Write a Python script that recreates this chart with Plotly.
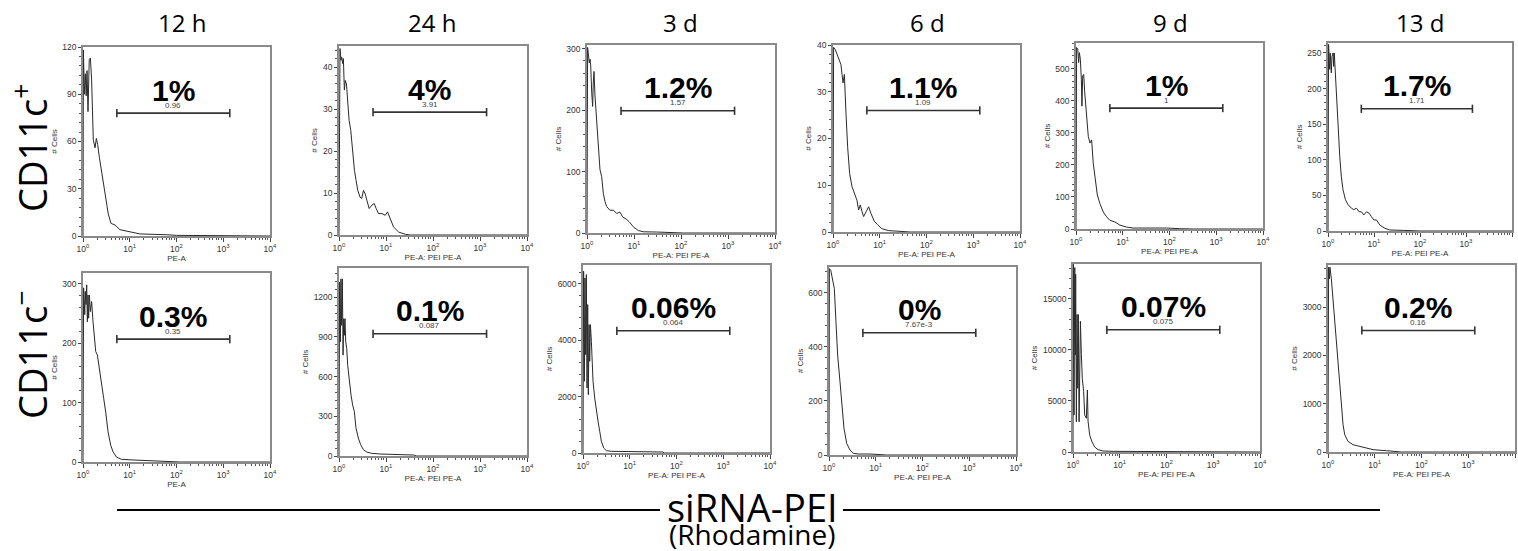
import math
import plotly.graph_objects as go

# ---------------- data ----------------
columns = ["12 h", "24 h", "3 d", "6 d", "9 d", "13 d"]
row_labels = ["CD11c<sup>+</sup>", "CD11c<sup>\u2212</sup>"]
x_tick_vals = [1, 10, 100, 1000, 10000]
x_tick_text = ["10<sup>0</sup>", "10<sup>1</sup>", "10<sup>2</sup>", "10<sup>3</sup>", "10<sup>4</sup>"]

# CD11c+ row
pe_12h_pos = [1.0, 1.02, 1.07, 1.12, 1.17, 1.22, 1.28, 1.36, 1.44, 1.53, 1.66, 1.81, 1.93, 2.06, 2.24, 2.51, 2.82, 3.09, 3.47, 3.98, 4.84, 6.17, 8.51, 16.6, 61.7, 100, 10000]
cells_12h_pos = [0, 118, 90, 103, 89, 105, 79, 112, 113, 99, 61, 56, 62, 58, 50, 40, 29, 21, 14, 8, 7, 4, 3, 1.3, 0.8, 0.4, 0]

pe_24h_pos = [1.0, 1.05, 1.10, 1.14, 1.20, 1.24, 1.30, 1.36, 1.44, 1.51, 1.64, 1.78, 1.96, 2.13, 2.31, 2.51, 2.81, 3.05, 3.31, 3.60, 3.91, 4.38, 5.00, 5.61, 6.18, 6.94, 8.18, 9.64, 10.8, 12.3, 14.5, 18.6, 25.8, 33.0, 10000]
cells_24h_pos = [0, 44.4, 41.6, 42.4, 40.8, 42, 34.5, 36.8, 36, 32.9, 27.3, 24.9, 18.6, 15.4, 13, 10.6, 9, 8.7, 10.6, 9.8, 8.3, 6.3, 7.1, 7.5, 6.3, 5.1, 5.1, 4.7, 5.5, 3.9, 1.9, 0.7, 0.16, 0, 0]

pe_3d_pos = [1.0, 1.03, 1.08, 1.12, 1.16, 1.20, 1.26, 1.32, 1.36, 1.41, 1.48, 1.61, 1.74, 1.89, 2.05, 2.23, 2.42, 2.62, 3.08, 3.63, 4.28, 5.04, 5.74, 6.76, 7.96, 9.68, 12.4, 15.8, 30.3, 58.3, 112, 10000]
cells_3d_pos = [0, 302, 288, 277, 283, 272, 228, 206, 244, 263, 223, 179, 135, 103, 92, 64, 51, 43, 37, 37, 32, 34, 26, 23, 18, 10, 4, 2, 1.6, 1, 0, 0]

pe_6d_pos = [1.0, 1.03, 1.12, 1.22, 1.39, 1.48, 1.56, 1.64, 1.75, 1.77, 1.90, 2.06, 2.27, 2.55, 2.86, 3.25, 3.53, 3.83, 4.16, 4.52, 5.15, 5.78, 6.47, 7.63, 8.99, 11.1, 15.5, 23.3, 44.8, 10000]
cells_6d_pos = [0, 39.5, 39, 37.9, 36.5, 35.8, 33.7, 31.9, 33.7, 31.6, 25.2, 18.1, 12.5, 9.7, 8.3, 6.8, 4.7, 5.8, 4.4, 3.3, 4.4, 5.4, 4.0, 2.3, 1.6, 0.7, 0.3, 0.14, 0, 0]

pe_9d_pos = [1.0, 1.03, 1.09, 1.14, 1.18, 1.24, 1.30, 1.34, 1.39, 1.46, 1.53, 1.61, 1.69, 1.83, 1.99, 2.16, 2.34, 2.55, 2.86, 3.25, 3.83, 4.52, 5.32, 6.81, 8.71, 12.1, 16.7, 23.3, 44.8, 86.3, 166, 320, 10000]
cells_9d_pos = [0, 566, 561, 519, 550, 529, 467, 383, 477, 482, 430, 383, 341, 289, 268, 278, 205, 153, 106, 79, 53, 38, 27, 22, 12, 6, 3, 3, 4, 3, 1, 0, 0]

pe_13d_pos = [1.0, 1.03, 1.09, 1.12, 1.18, 1.22, 1.29, 1.33, 1.37, 1.42, 1.52, 1.65, 1.80, 1.95, 2.12, 2.39, 2.73, 3.23, 3.63, 4.15, 4.75, 5.33, 6.00, 6.86, 7.85, 8.81, 9.91, 11.3, 13.4, 17.2, 22.1, 43.3, 100, 10000]
cells_13d_pos = [0, 262, 227, 250, 222, 245, 250, 231, 250, 229, 194, 147, 105, 76, 58, 44, 37, 32, 30, 32, 27, 27, 22.5, 27, 25, 20, 15.5, 15.5, 8.4, 3.8, 1.4, 0.9, 0, 0]

# CD11c- row
pe_12h_neg = [1.0, 1.03, 1.09, 1.12, 1.16, 1.20, 1.24, 1.28, 1.32, 1.37, 1.44, 1.53, 1.64, 1.78, 1.87, 2.03, 2.20, 2.47, 2.77, 3.06, 3.43, 3.92, 4.40, 5.18, 6.63, 11.8, 26.8, 71.9, 118, 10000]
cells_12h_neg = [0, 293, 248, 287, 265, 298, 236, 281, 242, 281, 253, 270, 236, 208, 186, 180, 163, 135, 107, 84, 51, 28, 17, 8.4, 4.5, 3.4, 2.3, 1.7, 0, 0]

pe_24h_neg = [1.0, 1.03, 1.07, 1.10, 1.14, 1.18, 1.22, 1.26, 1.30, 1.34, 1.39, 1.46, 1.53, 1.66, 1.80, 1.95, 2.12, 2.30, 2.58, 2.90, 3.30, 3.89, 4.97, 7.48, 16.9, 38.4, 45.2, 10000]
cells_24h_neg = [0, 1313, 862, 1338, 987, 1338, 762, 1037, 912, 1037, 862, 812, 686, 561, 461, 386, 336, 210, 135, 85, 48, 30, 20, 15, 10, 7.5, 0, 0]

pe_3d_neg = [1.0, 1.03, 1.07, 1.10, 1.14, 1.18, 1.22, 1.26, 1.30, 1.35, 1.39, 1.44, 1.51, 1.64, 1.78, 1.93, 2.10, 2.28, 2.47, 2.77, 3.16, 4.05, 6.11, 16.4, 51.8, 53.5, 10000]
cells_3d_neg = [0, 6450, 2545, 6210, 3490, 6330, 2307, 5265, 2070, 4555, 3253, 4555, 3963, 2545, 1952, 1479, 1124, 769, 414, 177, 83, 59, 59, 47, 35, 0, 0]

pe_6d_neg = [1.0, 1.02, 1.09, 1.20, 1.30, 1.41, 1.53, 1.72, 1.87, 2.09, 2.39, 2.81, 3.32, 4.24, 7.54, 14.5, 17.1, 10000]
cells_6d_neg = [0, 690, 684, 653, 616, 493, 370, 271, 185, 99, 43, 18.5, 6, 3.7, 3.7, 2.5, 0, 0]

pe_9d_neg = [1.0, 1.02, 1.05, 1.09, 1.12, 1.14, 1.18, 1.22, 1.26, 1.30, 1.35, 1.39, 1.44, 1.51, 1.58, 1.69, 1.78, 1.93, 2.03, 2.10, 2.28, 2.55, 2.91, 3.43, 4.40, 7.20, 26.8, 139, 268, 10000]
cells_9d_neg = [0, 18380, 3610, 18050, 9518, 17395, 2954, 13456, 6236, 13456, 2954, 11159, 12800, 9518, 7220, 5908, 3610, 3300, 6070, 3000, 1641, 985, 492, 230, 98, 66, 66, 33, 0, 0]

pe_13d_neg = [1.0, 1.03, 1.07, 1.10, 1.18, 1.28, 1.39, 1.51, 1.64, 1.78, 1.93, 2.10, 2.28, 2.68, 3.43, 4.77, 6.63, 9.21, 17.8, 34.3, 37.3, 10000]
cells_13d_neg = [0, 3824, 3584, 3824, 3584, 3171, 2691, 2210, 1730, 1318, 906, 563, 357, 220, 151, 117, 82, 48, 27, 14, 0, 0]

# gate (PE-A) and gate statistics
gate_low = 5.3
gate_high = 1380
pct_pos = ["1%", "4%", "1.2%", "1.1%", "1%", "1.7%"]
gate_stat_pos = ["0.96", "3.91", "1.57", "1.09", "1", "1.71"]
pct_neg = ["0.3%", "0.1%", "0.06%", "0%", "0.07%", "0.2%"]
gate_stat_neg = ["0.35", "0.087", "0.064", "7.67e-3", "0.075", "0.16"]

x_titles = ["PE-A", "PE-A: PEI PE-A", "PE-A: PEI PE-A", "PE-A: PEI PE-A", "PE-A: PEI PE-A", "PE-A: PEI PE-A"]
y_title = "# Cells"

series = [
    (pe_12h_pos, cells_12h_pos), (pe_24h_pos, cells_24h_pos), (pe_3d_pos, cells_3d_pos),
    (pe_6d_pos, cells_6d_pos), (pe_9d_pos, cells_9d_pos), (pe_13d_pos, cells_13d_pos),
    (pe_12h_neg, cells_12h_neg), (pe_24h_neg, cells_24h_neg), (pe_3d_neg, cells_3d_neg),
    (pe_6d_neg, cells_6d_neg), (pe_9d_neg, cells_9d_neg), (pe_13d_neg, cells_13d_neg),
]
pct_all = pct_pos + pct_neg
stat_all = gate_stat_pos + gate_stat_neg

# ---------------- layout constants ----------------
W, H = 1518, 551
# plot-area boxes in pixels: left, right, top, bottom
panel_px = [
    (83, 270, 47, 236), (339, 527, 46, 235), (587, 775, 45, 233),
    (833, 1020, 45, 232), (1076, 1263, 43, 229), (1328, 1512, 43, 231),
    (83, 270, 273, 462), (339, 527, 268, 456), (583, 770, 265, 453),
    (829, 1016, 267, 455), (1073, 1260, 264, 452), (1328, 1515, 265, 452),
]
y_top = [120, 45, 306, 40, 580, 264, 318, 1420, 6670, 696, 18400, 3870]
y_step = [30, 10, 100, 10, 100, 50, 100, 300, 2000, 200, 5000, 1000]
gate_frac = 0.65

label_font = "Liberation Sans, Arial, sans-serif"
title_font = "Open Sans, Noto Sans, sans-serif"
tick_font = dict(family=label_font, size=8.5, color="#333333")
x_minor = [m * 10 ** k for k in range(4) for m in range(2, 10)]

fig = go.Figure()
layout = dict(
    width=W, height=H, autosize=False,
    margin=dict(l=0, r=0, t=0, b=0, pad=0, autoexpand=False),
    paper_bgcolor="white", plot_bgcolor="white",
    showlegend=False,
)
annotations = []
shapes = []

for i, (xs, ys) in enumerate(series):
    n = i + 1
    xa = "x" if n == 1 else f"x{n}"
    ya = "y" if n == 1 else f"y{n}"
    L, R, T, B = panel_px[i]
    fig.add_trace(go.Scatter(
        x=xs, y=ys, mode="lines", xaxis=xa, yaxis=ya,
        line=dict(color="#2a2a2a", width=1), hoverinfo="skip",
    ))
    gy = gate_frac * y_top[i]
    cap = 0.022 * y_top[i]
    fig.add_trace(go.Scatter(
        x=[gate_low, gate_low, None, gate_low, gate_high, None, gate_high, gate_high],
        y=[gy - cap, gy + cap, None, gy, gy, None, gy - cap, gy + cap],
        mode="lines", xaxis=xa, yaxis=ya,
        line=dict(color="#333333", width=1.6), hoverinfo="skip",
    ))
    layout["xaxis" if n == 1 else f"xaxis{n}"] = dict(
        domain=[L / W, R / W], anchor=ya, type="log", range=[0, 4], automargin=False,
        tickmode="array", tickvals=x_tick_vals, ticktext=x_tick_text,
        ticks="outside", ticklen=4, tickcolor="#444444", tickfont=tick_font,
        minor=dict(tickmode="array", tickvals=x_minor, ticks="outside", ticklen=2, tickcolor="#555555"),
        showline=True, mirror=True, linecolor="#8a8a8a", linewidth=1.5,
        showgrid=False, zeroline=False,
        title=dict(text=x_titles[i % 6], font=dict(family=label_font, size=8, color="#333333"), standoff=1),
    )
    layout["yaxis" if n == 1 else f"yaxis{n}"] = dict(
        domain=[1 - B / H, 1 - T / H], anchor=xa, range=[0, y_top[i]], automargin=False,
        tickmode="linear", tick0=0, dtick=y_step[i], tickformat="d",
        ticks="outside", ticklen=3, tickcolor="#444444", tickfont=tick_font,
        minor=dict(dtick=y_step[i] / 5, ticks="outside", ticklen=2, tickcolor="#555555"),
        showline=True, mirror=True, linecolor="#8a8a8a", linewidth=1.5,
        showgrid=False, zeroline=False,
        title=dict(text=y_title, font=dict(family=label_font, size=8, color="#333333"), standoff=4),
    )
    xc = (math.log10(gate_low) + math.log10(gate_high)) / 2
    annotations.append(dict(
        x=xc, xref=xa, y=gate_frac, yref=f"{ya} domain",
        text=f"<b>{pct_all[i]}</b>", showarrow=False,
        xanchor="center", yanchor="middle", yshift=23,
        font=dict(family=label_font, size=30, color="black"),
    ))
    annotations.append(dict(
        x=xc, xref=xa, y=gate_frac, yref=f"{ya} domain",
        text=stat_all[i], showarrow=False,
        xanchor="center", yanchor="middle", yshift=8,
        font=dict(family=label_font, size=8, color="#444444"),
    ))

# column titles
col_x = [182, 432, 680, 927, 1170, 1420]
for label, cx in zip(columns, col_x):
    annotations.append(dict(
        x=cx / W, y=1 - 23 / H, xref="paper", yref="paper", text=label, showarrow=False,
        xanchor="center", yanchor="middle",
        font=dict(family=title_font, size=24, color="black"),
    ))

# row labels
row_y = [148, 355]
for label, ry in zip(row_labels, row_y):
    annotations.append(dict(
        x=30 / W, y=1 - ry / H, xref="paper", yref="paper", text=label, showarrow=False,
        textangle=-90, xanchor="center", yanchor="middle",
        font=dict(family=title_font, size=38, color="black"),
    ))

# bottom axis caption
annotations.append(dict(
    x=752 / W, y=1 - 507 / H, xref="paper", yref="paper", text="siRNA-PEI", showarrow=False,
    xanchor="center", yanchor="middle",
    font=dict(family=title_font, size=38, color="black"),
))
annotations.append(dict(
    x=752 / W, y=1 - 534 / H, xref="paper", yref="paper", text="(Rhodamine)", showarrow=False,
    xanchor="center", yanchor="middle",
    font=dict(family=title_font, size=28, color="black"),
))
for x0, x1 in [(117, 660), (843, 1380)]:
    shapes.append(dict(
        type="line", xref="paper", yref="paper", x0=x0 / W, x1=x1 / W,
        y0=1 - 510 / H, y1=1 - 510 / H, line=dict(color="black", width=2),
    ))

layout["annotations"] = annotations
layout["shapes"] = shapes
fig.update_layout(**layout)
fig.write_html(
    "out.html",
    config={"displayModeBar": False},
    post_script="document.body.style.margin='0';document.body.style.overflow='hidden';",
)
